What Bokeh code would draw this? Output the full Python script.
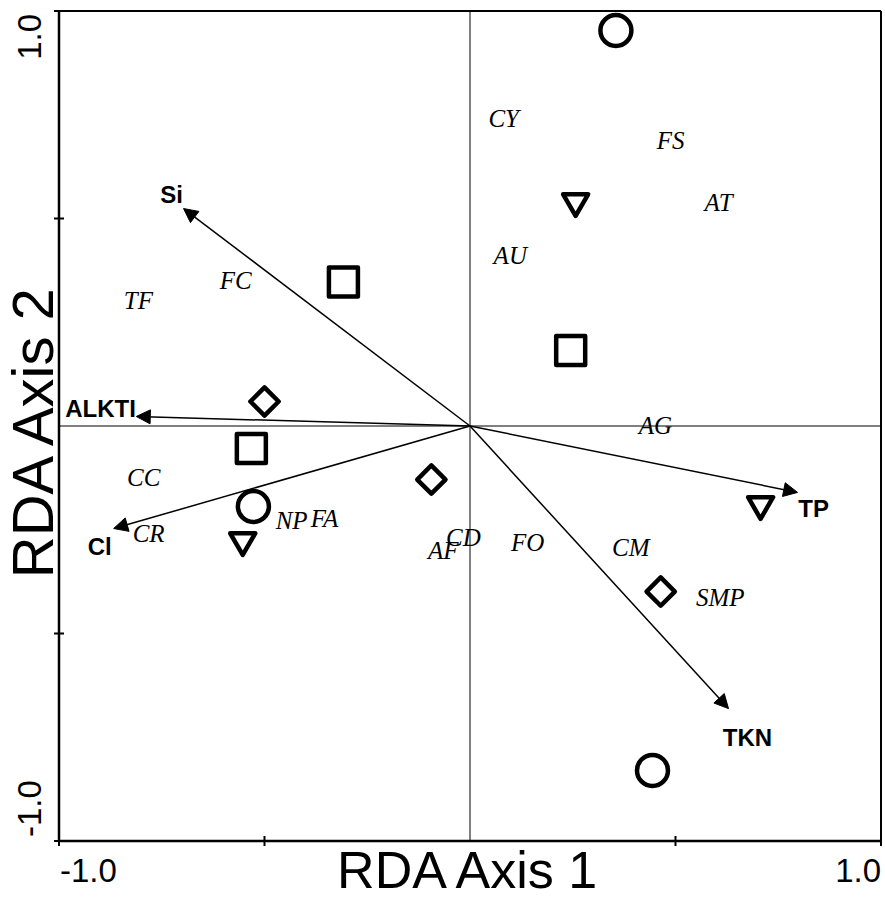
import math
from bokeh.plotting import figure
from bokeh.models import Range1d, Arrow, NormalHead, Label, ColumnDataSource
from bokeh.core.properties import value
from bokeh.embed import file_html
from bokeh.resources import INLINE

# Sample scores (RDA axis 1, axis 2), grouped by symbol
circle_x = [0.355, -0.527, 0.444]
circle_y = [0.953, -0.194, -0.830]
square_x = [-0.308, 0.245, -0.532]
square_y = [0.347, 0.182, -0.054]
diamond_x = [-0.500, -0.094, 0.464]
diamond_y = [0.059, -0.129, -0.399]
triangle_x = [0.257, -0.553, 0.707]
triangle_y = [0.541, -0.276, -0.189]

# Species scores
species = ["CY", "FS", "AT", "AU", "FC", "TF", "AG", "CC", "CR", "NP", "FA",
           "CD", "AF", "FO", "CM", "SMP"]
species_x = [0.082, 0.488, 0.605, 0.098, -0.570, -0.807, 0.451, -0.794, -0.782,
             -0.434, -0.354, -0.016, -0.065, 0.140, 0.391, 0.609]
species_y = [0.740, 0.688, 0.538, 0.411, 0.351, 0.302, 0.001, -0.124, -0.259,
             -0.228, -0.223, -0.269, -0.300, -0.281, -0.292, -0.413]

# Environmental variable biplot arrows and their label anchors
env_vars = ["Si", "ALKTI", "Cl", "TP", "TKN"]
env_x = [-0.697, -0.812, -0.867, 0.797, 0.629]
env_y = [0.524, 0.023, -0.247, -0.160, -0.681]
env_label_x = [-0.726, -0.899, -0.901, 0.836, 0.675]
env_label_y = [0.558, 0.042, -0.290, -0.199, -0.750]

# Axis extent and tick positions
axis_lo, axis_hi = -1.0, 1.0
axis_ticks = [-1.0, -0.5, 0.5, 1.0]

W, H = 885, 899
# frame edges inside the canvas (pixels) for the [-1, 1] box
left_px, right_px, top_px, bottom_px = 58.5, 880.5, 10.5, 840.5
sx = (right_px - left_px) / (axis_hi - axis_lo)
sy = (bottom_px - top_px) / (axis_hi - axis_lo)
x_range = Range1d(axis_lo - left_px / sx, axis_hi + (W - right_px) / sx)
y_range = Range1d(axis_lo - (H - bottom_px) / sy, axis_hi + top_px / sy)

p = figure(width=W, height=H, x_range=x_range, y_range=y_range,
           output_backend="svg", toolbar_location=None,
           min_border=0)
p.axis.visible = False
p.xgrid.visible = False
p.ygrid.visible = False
p.outline_line_color = None
p.background_fill_color = "white"
p.border_fill_color = "white"

# Plot box: heavier left/bottom axes, lighter top/right edges
p.segment(x0=[axis_lo, axis_lo], y0=[axis_lo, axis_lo],
          x1=[axis_lo, axis_hi], y1=[axis_hi, axis_lo],
          line_color="black", line_width=2.5)
p.segment(x0=[axis_lo, axis_hi], y0=[axis_hi, axis_lo],
          x1=[axis_hi, axis_hi], y1=[axis_hi, axis_hi],
          line_color="black", line_width=2)

# Zero cross-hairs
p.segment(x0=[0.0, axis_lo], y0=[axis_lo, 0.0], x1=[0.0, axis_hi], y1=[axis_hi, 0.0],
          line_color="black", line_width=1)

# Tick marks crossing the left and bottom axes
p.scatter(x=axis_ticks, y=[axis_lo] * len(axis_ticks), marker="dash", size=10,
          angle=math.pi / 2, line_color="black", line_width=2)
p.scatter(x=[axis_lo] * len(axis_ticks), y=axis_ticks, marker="dash", size=10,
          line_color="black", line_width=2)

# Biplot arrows
arrow_src = ColumnDataSource(dict(x0=[0.0] * len(env_x), y0=[0.0] * len(env_y),
                                  x1=env_x, y1=env_y))
p.add_layout(Arrow(end=NormalHead(size=14, fill_color="black", line_color="black",
                                  line_width=1),
                   x_start="x0", y_start="y0", x_end="x1", y_end="y1",
                   source=arrow_src, line_color="black", line_width=1.5))

# Sample symbols
mk = dict(fill_color=None, line_color="black", line_width=4.5, line_join="round")
p.scatter(circle_x, circle_y, marker="circle", size=31, **mk)
p.scatter(square_x, square_y, marker="square", size=29, **mk)
p.scatter(diamond_x, diamond_y, marker="square", size=20, angle=math.pi / 4, **mk)
p.scatter(triangle_x, triangle_y, marker="inverted_triangle", size=25, **mk)

# Species names
p.text(x=species_x, y=species_y, text=species,
       text_font=value("Liberation Serif"), text_font_style="italic",
       text_font_size="25px", text_align="center", text_baseline="middle",
       text_color="black")

# Environmental variable names
p.text(x=env_label_x, y=env_label_y, text=env_vars,
       text_font=value("Liberation Sans"), text_font_style="bold",
       text_font_size="24px", text_align="center", text_baseline="middle",
       text_color="black")

# Tick labels at the axis ends
tick_font = dict(text_font="Liberation Sans", text_font_size="33px",
                 text_color="black")
p.add_layout(Label(x=axis_lo, y=axis_lo, text="-1.0", text_align="left",
                   text_baseline="alphabetic", x_offset=1, y_offset=-29, **tick_font))
p.add_layout(Label(x=axis_hi, y=axis_lo, text="1.0", text_align="right",
                   text_baseline="alphabetic", y_offset=-29, **tick_font))
p.add_layout(Label(x=axis_lo, y=axis_hi, text="1.0", text_align="right",
                   angle=math.pi / 2, text_baseline="middle",
                   x_offset=-30, y_offset=-3, **tick_font))
p.add_layout(Label(x=axis_lo, y=axis_lo, text="-1.0", text_align="left",
                   angle=math.pi / 2, text_baseline="middle",
                   x_offset=-30, y_offset=4, **tick_font))

# Axis titles
p.add_layout(Label(x=0, y=axis_lo, text="RDA Axis 1", text_align="center",
                   text_baseline="alphabetic", y_offset=-29,
                   text_font="Liberation Sans", text_font_size="52px",
                   text_color="black"))
p.add_layout(Label(x=axis_lo, y=0, text="RDA Axis 2", text_align="center",
                   angle=math.pi / 2, text_baseline="middle",
                   x_offset=-27, y_offset=-4,
                   text_font="Liberation Sans", text_font_size="58px",
                   text_color="black"))

open("out.html", "w").write(file_html(p, INLINE))
